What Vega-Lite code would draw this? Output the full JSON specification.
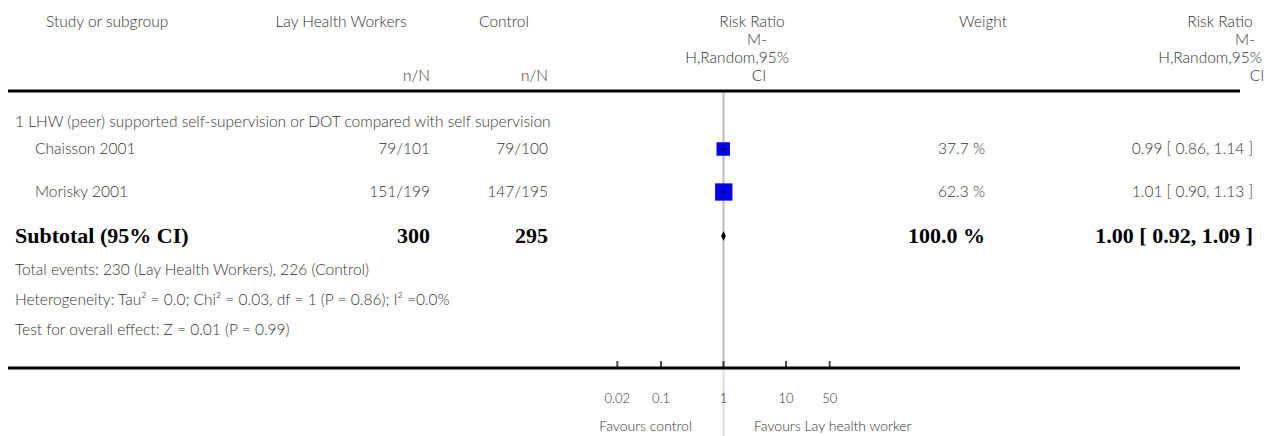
{
  "$schema": "https://vega.github.io/schema/vega-lite/v6.json",
  "width": 1268,
  "height": 436,
  "autosize": {"type": "fit", "contains": "padding"},
  "padding": 0,
  "background": "white",
  "config": {"view": {"stroke": null}},
  "datasets": {
    "texts": [
      {"line": 1, "col": 2, "text": "Study or subgroup"},
      {"line": 1, "col": 3, "text": "Lay Health Workers"},
      {"line": 1, "col": 5, "text": "Control"},
      {"line": 1, "col": 7, "text": "Risk Ratio"},
      {"line": 2, "col": 16, "text": "M-"},
      {"line": 3, "col": 17, "text": "H,Random,95%"},
      {"line": 4, "col": 18, "text": "CI"},
      {"line": 1, "col": 10, "text": "Weight"},
      {"line": 1, "col": 12, "text": "Risk Ratio"},
      {"line": 2, "col": 19, "text": "M-"},
      {"line": 3, "col": 20, "text": "H,Random,95%"},
      {"line": 4, "col": 21, "text": "CI"},
      {"line": 4, "col": 4, "text": "n/N"},
      {"line": 4, "col": 6, "text": "n/N"},
      {"line": 6, "col": 0, "text": "1 LHW (peer) supported self-supervision or DOT compared with self supervision"},
      {"line": 7, "col": 1, "text": "Chaisson 2001"},
      {"line": 7, "col": 4, "text": "79/101"},
      {"line": 7, "col": 6, "text": "79/100"},
      {"line": 7, "col": 11, "text": "37.7 %"},
      {"line": 7, "col": 13, "text": "0.99 [ 0.86, 1.14 ]"},
      {"line": 8, "col": 1, "text": "Morisky 2001"},
      {"line": 8, "col": 4, "text": "151/199"},
      {"line": 8, "col": 6, "text": "147/195"},
      {"line": 8, "col": 11, "text": "62.3 %"},
      {"line": 8, "col": 13, "text": "1.01 [ 0.90, 1.13 ]"},
      {"line": 10, "col": 0, "text": "Total events: 230 (Lay Health Workers), 226 (Control)"},
      {"line": 11, "col": 0, "text": "Heterogeneity: Tau² = 0.0; Chi² = 0.03, df = 1 (P = 0.86); I² =0.0%"},
      {"line": 12, "col": 0, "text": "Test for overall effect: Z = 0.01 (P = 0.99)"},
      {"line": 15, "col": 8, "text": "Favours control"},
      {"line": 15, "col": 9, "text": "Favours Lay health worker"}
    ],
    "bold": [
      {"line": 9, "col": 0, "text": "Subtotal (95% CI)"},
      {"line": 9, "col": 4, "text": "300"},
      {"line": 9, "col": 6, "text": "295"},
      {"line": 9, "col": 11, "text": "100.0 %"},
      {"line": 9, "col": 13, "text": "1.00 [ 0.92, 1.09 ]"}
    ],
    "studies": [
      {"study": "Chaisson 2001", "line": 7, "rr": 0.99, "lo": 0.86, "hi": 1.14, "weight": 37.7},
      {"study": "Morisky 2001", "line": 8, "rr": 1.01, "lo": 0.90, "hi": 1.13, "weight": 62.3}
    ],
    "overall": [{"line": 9, "rr": 1.0, "lo": 0.92, "hi": 1.09}],
    "axisticks": [
      {"v": 0.02, "label": "0.02", "line": 13, "labelLine": 14},
      {"v": 0.1, "label": "0.1", "line": 13, "labelLine": 14},
      {"v": 1, "label": "1", "line": 13, "labelLine": 14},
      {"v": 10, "label": "10", "line": 13, "labelLine": 14},
      {"v": 50, "label": "50", "line": 13, "labelLine": 14}
    ],
    "hrules": [{"line": 5}, {"line": 13}],
    "refline": [
      {"rr": 1, "line": 5, "line2": 13, "part": "in"},
      {"rr": 1, "line": 13, "line2": 16, "part": "out"}
    ]
  },
  "encoding": {
    "y": {
      "field": "line",
      "type": "quantitative",
      "axis": null,
      "scale": {
        "domain": [1, 2, 3, 4, 5, 6, 7, 8, 9, 10, 11, 12, 13, 14, 15, 16],
        "range": [22, 40, 58, 76, 91, 122, 149, 192, 236, 270, 300, 330, 368, 399, 427, 436],
        "zero": false,
        "nice": false
      }
    }
  },
  "resolve": {"scale": {"x": "independent", "color": "independent", "size": "independent"}},
  "layer": [
    {
      "data": {"name": "refline"},
      "mark": {"type": "rule", "strokeWidth": 2},
      "encoding": {
        "x": {"field": "rr", "type": "quantitative", "axis": null, "scale": {"type": "log", "domain": [0.01, 100], "range": [598.5, 848.5]}},
        "y2": {"field": "line2"},
        "color": {"field": "part", "type": "nominal", "legend": null, "scale": {"domain": ["in", "out"], "range": ["#bdbdbd", "#dcdcdc"]}}
      }
    },
    {
      "data": {"name": "hrules"},
      "mark": {"type": "rule", "strokeWidth": 3, "color": "black"},
      "encoding": {
        "x": {"datum": 14, "type": "quantitative", "axis": null, "scale": {"domain": [0, 1, 2, 3, 4, 5, 6, 7, 8, 9, 10, 11, 12, 13, 14, 15], "range": [15, 35, 46, 341, 430, 504, 548, 752, 692, 754, 983, 985, 1220, 1253, 8, 1240], "zero": false, "nice": false}},
        "x2": {"datum": 15}
      }
    },
    {
      "data": {"name": "axisticks"},
      "mark": {"type": "tick", "orient": "vertical", "size": 6, "thickness": 2, "color": "black", "yOffset": -4},
      "encoding": {
        "x": {"field": "v", "type": "quantitative", "axis": null, "scale": {"type": "log", "domain": [0.01, 100], "range": [598.5, 848.5]}}
      }
    },
    {
      "data": {"name": "axisticks"},
      "mark": {"type": "text", "align": "center", "baseline": "middle", "font": "Lato", "fontSize": 13, "fontWeight": 300, "color": "#333333"},
      "encoding": {
        "x": {"field": "v", "type": "quantitative", "axis": null, "scale": {"type": "log", "domain": [0.01, 100], "range": [598.5, 848.5]}},
        "y": {"field": "labelLine", "type": "quantitative"},
        "text": {"field": "label"}
      }
    },
    {
      "data": {"name": "studies"},
      "mark": {"type": "square", "filled": true, "opacity": 1, "color": "#0000ff"},
      "encoding": {
        "x": {"field": "rr", "type": "quantitative", "axis": null, "scale": {"type": "log", "domain": [0.01, 100], "range": [598.5, 848.5]}},
        "size": {"field": "weight", "type": "quantitative", "legend": null, "scale": {"type": "linear", "domain": [0, 100], "range": [0, 480], "zero": true}}
      }
    },
    {
      "data": {"name": "studies"},
      "mark": {"type": "rule", "strokeWidth": 1, "color": "black"},
      "encoding": {
        "x": {"field": "lo", "type": "quantitative", "axis": null, "scale": {"type": "log", "domain": [0.01, 100], "range": [598.5, 848.5]}},
        "x2": {"field": "hi"}
      }
    },
    {
      "data": {"name": "studies"},
      "mark": {"type": "tick", "orient": "vertical", "size": 5, "thickness": 1, "color": "black"},
      "encoding": {
        "x": {"field": "rr", "type": "quantitative", "axis": null, "scale": {"type": "log", "domain": [0.01, 100], "range": [598.5, 848.5]}}
      }
    },
    {
      "data": {"name": "overall"},
      "mark": {"type": "point", "filled": true, "opacity": 1, "color": "black", "shape": "M -0.5 0 L 0 -1 L 0.5 0 L 0 1 Z", "size": 90},
      "encoding": {
        "x": {"field": "rr", "type": "quantitative", "axis": null, "scale": {"type": "log", "domain": [0.01, 100], "range": [598.5, 848.5]}}
      }
    },
    {
      "data": {"name": "texts"},
      "transform": [{"filter": "indexof([0, 1, 2], datum.col) >= 0"}],
      "mark": {"type": "text", "align": "left", "baseline": "middle", "font": "Lato", "fontSize": 15.5, "fontWeight": 300, "color": "#333333"},
      "encoding": {
        "x": {"field": "col", "type": "quantitative", "axis": null, "scale": {"domain": [0, 1, 2, 3, 4, 5, 6, 7, 8, 9, 10, 11, 12, 13, 14, 15, 16, 17, 18, 19, 20, 21], "range": [15, 35, 46, 341, 430, 504, 548, 752, 692, 754, 983, 985, 1220, 1253, 8, 1240, 757, 737, 759, 1245, 1210, 1257], "zero": false, "nice": false}},
        "text": {"field": "text"}
      }
    },
    {
      "data": {"name": "texts"},
      "transform": [{"filter": "indexof([3, 5, 7, 10, 12, 16, 17, 18, 19, 20, 21], datum.col) >= 0"}],
      "mark": {"type": "text", "align": "center", "baseline": "middle", "font": "Lato", "fontSize": 15.5, "fontWeight": 300, "color": "#333333"},
      "encoding": {
        "x": {"field": "col", "type": "quantitative", "axis": null, "scale": {"domain": [0, 1, 2, 3, 4, 5, 6, 7, 8, 9, 10, 11, 12, 13, 14, 15, 16, 17, 18, 19, 20, 21], "range": [15, 35, 46, 341, 430, 504, 548, 752, 692, 754, 983, 985, 1220, 1253, 8, 1240, 757, 737, 759, 1245, 1210, 1257], "zero": false, "nice": false}},
        "text": {"field": "text"}
      }
    },
    {
      "data": {"name": "texts"},
      "transform": [{"filter": "indexof([4, 6, 11, 13], datum.col) >= 0"}],
      "mark": {"type": "text", "align": "right", "baseline": "middle", "font": "Lato", "fontSize": 15.5, "fontWeight": 300, "color": "#333333"},
      "encoding": {
        "x": {"field": "col", "type": "quantitative", "axis": null, "scale": {"domain": [0, 1, 2, 3, 4, 5, 6, 7, 8, 9, 10, 11, 12, 13, 14, 15, 16, 17, 18, 19, 20, 21], "range": [15, 35, 46, 341, 430, 504, 548, 752, 692, 754, 983, 985, 1220, 1253, 8, 1240, 757, 737, 759, 1245, 1210, 1257], "zero": false, "nice": false}},
        "text": {"field": "text"}
      }
    },
    {
      "data": {"name": "texts"},
      "transform": [{"filter": "datum.col == 8"}],
      "mark": {"type": "text", "align": "right", "baseline": "middle", "font": "Lato", "fontSize": 14, "fontWeight": 300, "color": "#333333"},
      "encoding": {
        "x": {"field": "col", "type": "quantitative", "axis": null, "scale": {"domain": [0, 1, 2, 3, 4, 5, 6, 7, 8, 9, 10, 11, 12, 13, 14, 15, 16, 17, 18, 19, 20, 21], "range": [15, 35, 46, 341, 430, 504, 548, 752, 692, 754, 983, 985, 1220, 1253, 8, 1240, 757, 737, 759, 1245, 1210, 1257], "zero": false, "nice": false}},
        "text": {"field": "text"}
      }
    },
    {
      "data": {"name": "texts"},
      "transform": [{"filter": "datum.col == 9"}],
      "mark": {"type": "text", "align": "left", "baseline": "middle", "font": "Lato", "fontSize": 14, "fontWeight": 300, "color": "#333333"},
      "encoding": {
        "x": {"field": "col", "type": "quantitative", "axis": null, "scale": {"domain": [0, 1, 2, 3, 4, 5, 6, 7, 8, 9, 10, 11, 12, 13, 14, 15, 16, 17, 18, 19, 20, 21], "range": [15, 35, 46, 341, 430, 504, 548, 752, 692, 754, 983, 985, 1220, 1253, 8, 1240, 757, 737, 759, 1245, 1210, 1257], "zero": false, "nice": false}},
        "text": {"field": "text"}
      }
    },
    {
      "data": {"name": "bold"},
      "transform": [{"filter": "datum.col == 0"}],
      "mark": {"type": "text", "align": "left", "baseline": "middle", "font": "Liberation Serif", "fontSize": 22, "fontWeight": "bold", "color": "black"},
      "encoding": {
        "x": {"field": "col", "type": "quantitative", "axis": null, "scale": {"domain": [0, 1, 2, 3, 4, 5, 6, 7, 8, 9, 10, 11, 12, 13, 14, 15, 16, 17, 18, 19, 20, 21], "range": [15, 35, 46, 341, 430, 504, 548, 752, 692, 754, 983, 985, 1220, 1253, 8, 1240, 757, 737, 759, 1245, 1210, 1257], "zero": false, "nice": false}},
        "text": {"field": "text"}
      }
    },
    {
      "data": {"name": "bold"},
      "transform": [{"filter": "datum.col != 0"}],
      "mark": {"type": "text", "align": "right", "baseline": "middle", "font": "Liberation Serif", "fontSize": 22, "fontWeight": "bold", "color": "black"},
      "encoding": {
        "x": {"field": "col", "type": "quantitative", "axis": null, "scale": {"domain": [0, 1, 2, 3, 4, 5, 6, 7, 8, 9, 10, 11, 12, 13, 14, 15, 16, 17, 18, 19, 20, 21], "range": [15, 35, 46, 341, 430, 504, 548, 752, 692, 754, 983, 985, 1220, 1253, 8, 1240, 757, 737, 759, 1245, 1210, 1257], "zero": false, "nice": false}},
        "text": {"field": "text"}
      }
    }
  ]
}
